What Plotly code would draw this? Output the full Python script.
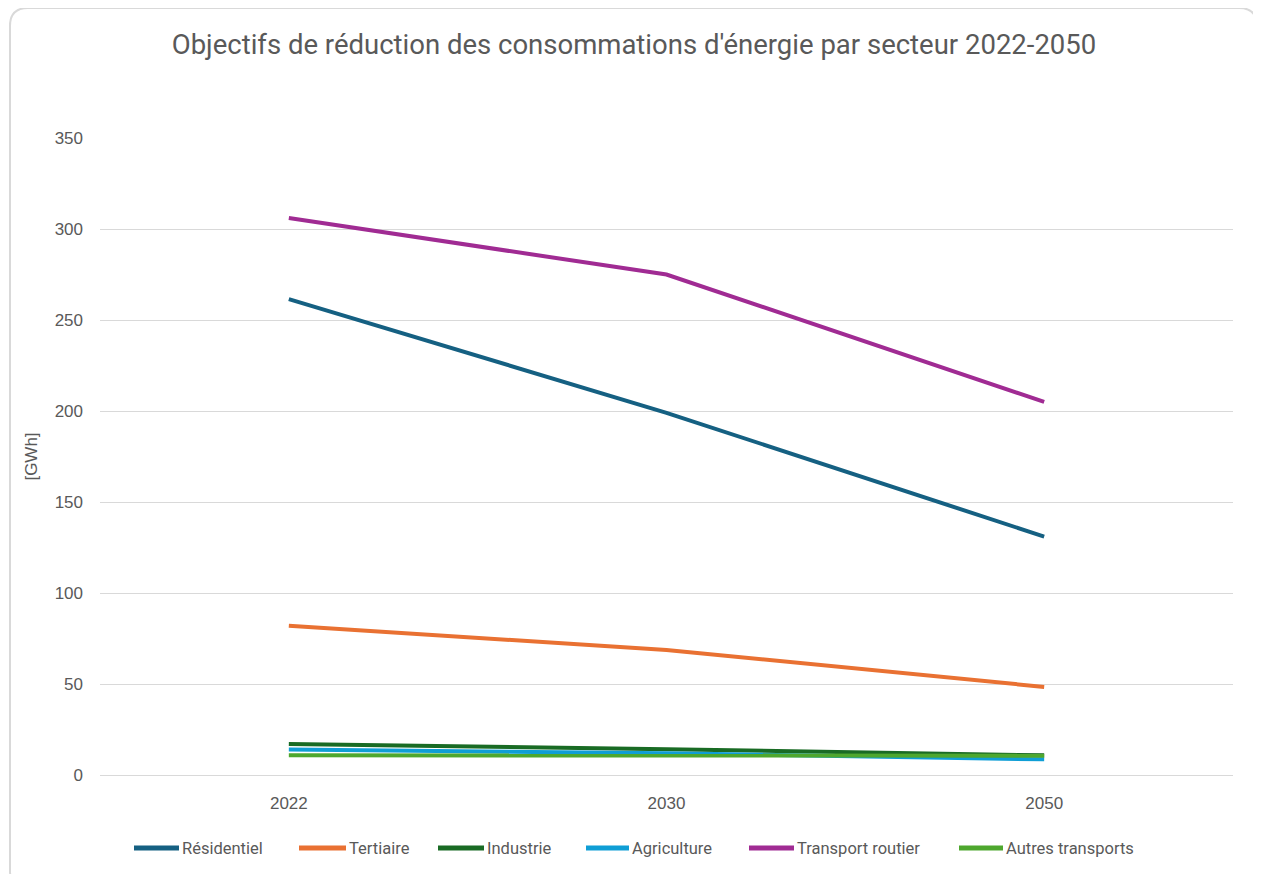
import plotly.graph_objects as go

years = ["2022", "2030", "2050"]
series_names = ["Résidentiel", "Tertiaire", "Industrie", "Agriculture", "Transport routier", "Autres transports"]
residentiel = [261.5, 199, 131]
tertiaire = [82, 68.7, 48.4]
industrie = [17, 14.2, 10.8]
agriculture = [14, 12, 8.6]
transport_routier = [306, 275, 205]
autres_transports = [10.8, 10.8, 10.6]
colors = ["#156082", "#E97132", "#196B24", "#0F9ED5", "#A02B93", "#4EA72E"]

values = [residentiel, tertiaire, industrie, agriculture, transport_routier, autres_transports]

OFF = 8  # page body margin
W, H = 1261, 874
ml, mt = 100 - OFF, 138 - OFF
mr = W - (1233 - OFF)
mb = H - (775 - OFF)
pw, ph = W - ml - mr, H - mt - mb

fig = go.Figure()
for name, vals, col in zip(series_names, values, colors):
    fig.add_trace(go.Scatter(x=years, y=vals, name=name, mode="lines",
                             line=dict(color=col, width=4), showlegend=False))

def U(x):
    return (x - OFF - ml) / pw

def V(y):
    return (H - mb - (y - OFF)) / ph

def P(x, y):
    return f"{U(x):.5f},{V(y):.5f}"

# rounded border (reference pixel coordinates)
x0, y0, x1, y1, r = 10, 8, 1257, 890, 18
path = (f"M {P(x0+r, y0)} L {P(x1-r, y0)} Q {P(x1, y0)} {P(x1, y0+r)} "
        f"L {P(x1, y1-r)} Q {P(x1, y1)} {P(x1-r, y1)} L {P(x0+r, y1)} "
        f"Q {P(x0, y1)} {P(x0, y1-r)} L {P(x0, y0+r)} Q {P(x0, y0)} {P(x0+r, y0)} Z")
fig.add_shape(type="path", path=path, xref="paper", yref="paper",
              line=dict(color="#D9D9D9", width=2), layer="below")

# custom legend (positions in reference pixels)
legend_line_x = [(134, 179), (299, 346), (438, 484), (586, 629), (749, 794), (959, 1003)]
legend_y = 848
for name, col, (lx0, lx1) in zip(series_names, colors, legend_line_x):
    fig.add_shape(type="line", xref="paper", yref="paper",
                  x0=U(lx0), x1=U(lx1), y0=V(legend_y), y1=V(legend_y),
                  line=dict(color=col, width=5))
    fig.add_annotation(text=name, xref="paper", yref="paper", x=U(lx1 + 1), y=V(legend_y),
                       xanchor="left", yanchor="middle", showarrow=False,
                       font=dict(family="Roboto, Noto Sans, sans-serif", size=16.5, color="#595959"))

fig.update_layout(
    width=W, height=H,
    margin=dict(l=ml, r=mr, t=mt, b=mb),
    paper_bgcolor="white", plot_bgcolor="white",
    title=dict(text="Objectifs de réduction des consommations d'énergie par secteur 2022-2050",
               x=U(634), xref="paper", xanchor="center",
               y=1 - (44 - OFF) / H, yanchor="middle",
               font=dict(family="Roboto, Noto Sans, sans-serif", size=27.5, color="#595959")),
    xaxis=dict(type="category", showgrid=False, zeroline=False, showline=False,
               ticks="", ticklabelstandoff=16,
               tickfont=dict(family="Liberation Sans, Arial", size=17, color="#595959"),
               range=[-0.5, 2.5]),
    yaxis=dict(range=[0, 350], dtick=50, showgrid=True, gridcolor="#D9D9D9", gridwidth=1.3,
               zeroline=True, zerolinecolor="#D9D9D9", zerolinewidth=1.3, showline=False,
               ticklabelstandoff=16,
               tickfont=dict(family="Liberation Sans, Arial", size=17, color="#595959"),
               title=dict(text="[GWh]", standoff=12,
                          font=dict(family="Liberation Sans, Arial", size=17, color="#595959"))),
    showlegend=False,
)

fig.write_html("out.html")
